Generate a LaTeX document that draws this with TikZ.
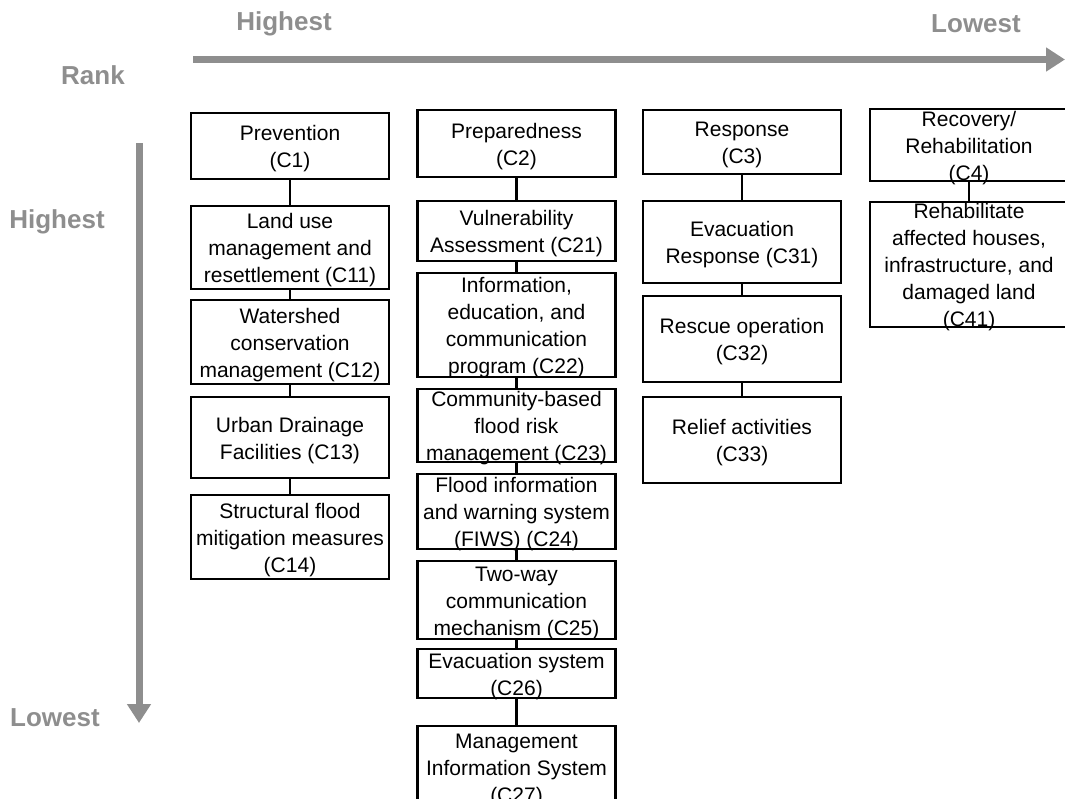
\documentclass[tikz,border=0pt]{standalone}
\usepackage{fontspec}
\setmainfont{Liberation Sans}
\usetikzlibrary{arrows.meta}
\definecolor{rankgray}{HTML}{8E8E8E}
\tikzset{
  box/.style={draw=black, line width=2.8pt, minimum width=198pt, inner sep=0pt, outer sep=0pt},
  txt/.style={align=center, inner sep=0pt, yshift=-3pt, font=\fontsize{21}{27}\selectfont, text=black},
  lbl/.style={text=rankgray, inner sep=0pt, font=\fontsize{26}{30}\selectfont\bfseries},
  link/.style={draw=black, line width=2.4pt},
  rankarrow/.style={draw=rankgray, line width=7pt, -{Triangle[length=19pt,width=23pt]}}
}
\begin{document}
\begin{tikzpicture}[x=1pt,y=-1pt]
\useasboundingbox (0,0) rectangle (1065,798);
\clip (0,0) rectangle (1065,798);
% rank labels
\node[lbl] (th) at (284,24) {Highest};
\node[lbl] (tl) at (976,24) {Lowest};
\node[lbl] (rank) at (93,75) {Rank};
\node[lbl] (lh) at (57,222) {Highest};
\node[lbl] (ll) at (55,718) {Lowest};
\coordinate (hs) at (193,59.5);
\coordinate (he) at (1065,59.5);
\draw[rankarrow] (hs) -- (he);
\coordinate (vs) at (139,143);
\coordinate (ve) at (139,723);
\draw[rankarrow] (vs) -- (ve);
% column 1
\node[box, minimum height=66pt, label={[txt]center:Prevention\\(C1)}] (c1) at (290,146) {};
\node[box, minimum height=83pt, label={[txt]center:Land use\\management and\\resettlement (C11)}] (c11) at (290,247.5) {};
\node[box, minimum height=84pt, label={[txt]center:Watershed\\conservation\\management (C12)}] (c12) at (290,342) {};
\node[box, minimum height=81pt, label={[txt]center:Urban Drainage\\Facilities (C13)}] (c13) at (290,437.5) {};
\node[box, minimum height=84pt, label={[txt]center:Structural flood\\mitigation measures\\(C14)}] (c14) at (290,537) {};
% column 2
\node[box, minimum height=67pt, label={[txt]center:Preparedness\\(C2)}] (c2) at (516.5,143.5) {};
\node[box, minimum height=60pt, label={[txt]center:Vulnerability\\Assessment (C21)}] (c21) at (516.5,231) {};
\node[box, minimum height=104pt, label={[txt]center:Information,\\education, and\\communication\\program (C22)}] (c22) at (516.5,325) {};
\node[box, minimum height=73pt, label={[txt]center:Community-based\\flood risk\\management (C23)}] (c23) at (516.5,425.5) {};
\node[box, minimum height=75pt, label={[txt]center:Flood information\\and warning system\\(FIWS) (C24)}] (c24) at (516.5,511.5) {};
\node[box, minimum height=78pt, label={[txt]center:Two-way\\communication\\mechanism (C25)}] (c25) at (516.5,600) {};
\node[box, minimum height=49pt, label={[txt]center:Evacuation system\\(C26)}] (c26) at (516.5,673.5) {};
\node[box, minimum height=82pt, label={[txt]center:Management\\Information System\\(C27)}] (c27) at (516.5,767) {};
% column 3
\node[box, minimum height=64pt, label={[txt]center:Response\\(C3)}] (c3) at (742,142) {};
\node[box, minimum height=82pt, label={[txt]center:Evacuation\\Response (C31)}] (c31) at (742,242) {};
\node[box, minimum height=86pt, label={[txt]center:Rescue operation\\(C32)}] (c32) at (742,339) {};
\node[box, minimum height=86pt, label={[txt]center:Relief activities\\(C33)}] (c33) at (742,440) {};
% column 4
\node[box, minimum height=72pt, label={[txt]center:Recovery/\\Rehabilitation\\(C4)}] (c4) at (969,145) {};
\node[box, minimum height=125pt, label={[txt]center:Rehabilitate\\affected houses,\\infrastructure, and\\damaged land\\(C41)}] (c41) at (969,264.5) {};
% connectors
\draw[link] (c1) -- (c11);
\draw[link] (c11) -- (c12);
\draw[link] (c12) -- (c13);
\draw[link] (c13) -- (c14);
\draw[link] (c2) -- (c21);
\draw[link] (c21) -- (c22);
\draw[link] (c22) -- (c23);
\draw[link] (c23) -- (c24);
\draw[link] (c24) -- (c25);
\draw[link] (c25) -- (c26);
\draw[link] (c26) -- (c27);
\draw[link] (c3) -- (c31);
\draw[link] (c31) -- (c32);
\draw[link] (c32) -- (c33);
\draw[link] (c4) -- (c41);
\end{tikzpicture}
\end{document}
